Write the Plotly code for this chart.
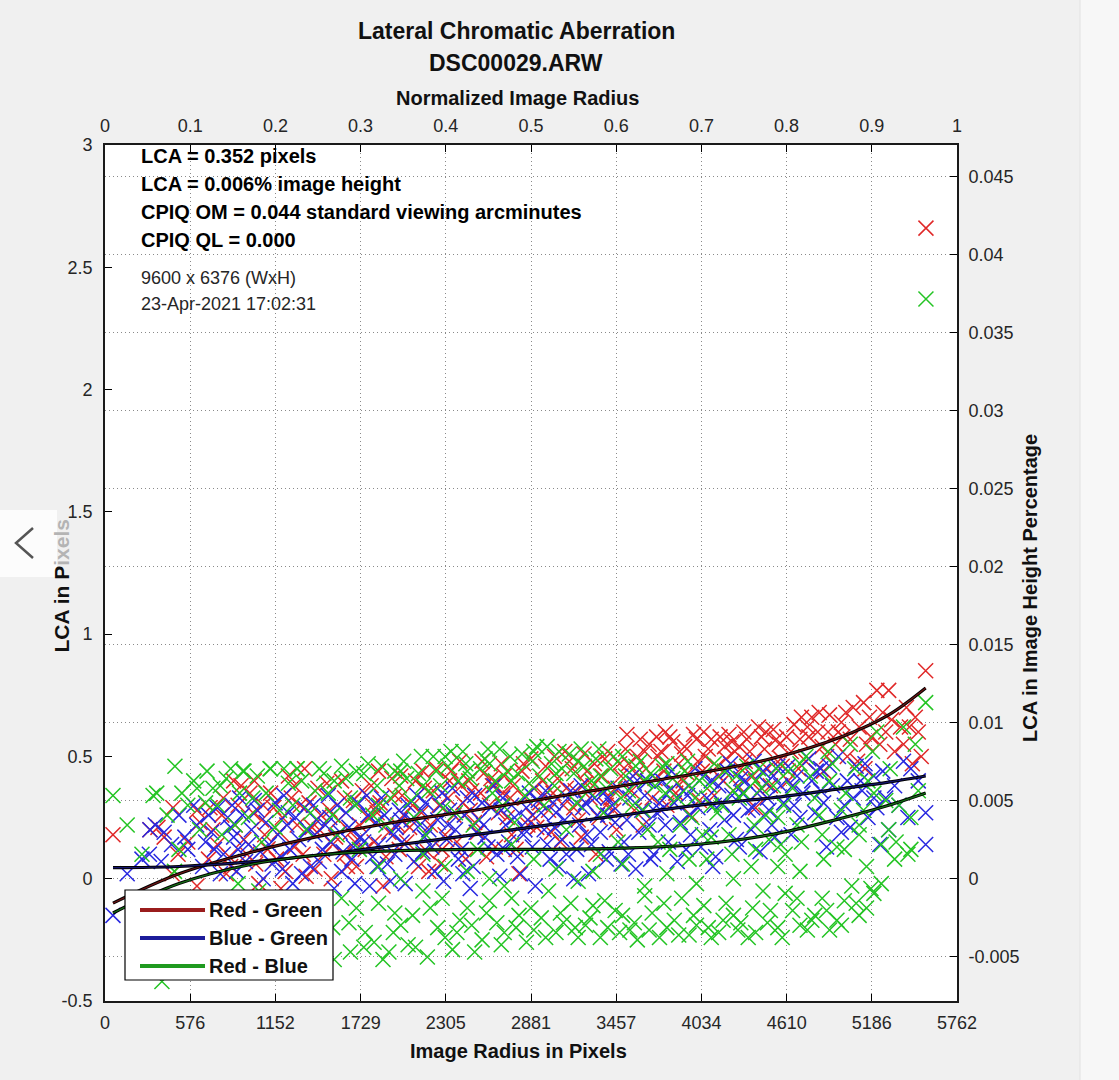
import plotly.graph_objects as go

# LCA points (radius in pixels, LCA in pixels)
red_pts = [
    (54, 0.18), (304, 0.20), (358, 0.21), (460, 0.29), (622, 0.28), (710, 0.29), (642, 0.23), (494, 0.10),
    (622, -0.03), (453, 0.02), (560, 0.15), (400, 0.17),
    (760, 0.14), (800, 0.33), (850, 0.05), (880, 0.22), (920, 0.38), (960, 0.10), (1000, 0.27), (1040, -0.02),
    (1080, 0.18), (1120, 0.35), (1160, 0.08), (1200, 0.25), (1240, 0.42), (1280, 0.13), (1320, 0.30), (1360, 0.01),
    (1400, 0.21), (1440, 0.37), (1480, 0.10), (1520, 0.28), (1560, 0.17), (1600, 0.40), (1640, 0.05), (1680, 0.32),
    (1720, 0.22), (1760, 0.12), (1800, 0.38), (1840, 0.27), (1880, -0.03), (1920, 0.19), (1960, 0.34),
    (730, 0.20), (790, 0.26), (840, 0.09), (900, 0.30), (940, 0.16), (980, 0.35), (1020, 0.06), (1060, 0.24),
    (1100, 0.12), (1140, 0.29), (1180, 0.19), (1220, 0.03), (1260, 0.33), (1300, 0.22), (1340, 0.10), (1380, 0.31),
    (1420, 0.04), (1460, 0.26), (1500, 0.39), (1540, 0.14), (1580, 0.24), (1620, 0.33), (1660, 0.19), (1700, 0.05),
    (1740, 0.36), (1780, 0.25), (1820, 0.15), (1860, 0.31), (1900, 0.09), (1940, 0.41), (1980, 0.22),
    (2000, 0.42), (2040, 0.15), (2080, 0.30), (2120, 0.05), (2160, 0.37), (2200, 0.22), (2240, 0.45), (2280, 0.12),
    (2320, 0.33), (2360, 0.26), (2400, 0.48), (2440, 0.08), (2480, 0.36), (2520, 0.19), (2560, 0.43), (2600, 0.30),
    (2640, 0.13), (2680, 0.47), (2720, 0.25), (2760, 0.38), (2800, 0.02), (2840, 0.33), (2880, 0.49), (2920, 0.21),
    (2960, 0.40), (3000, 0.28), (3040, 0.50), (3080, 0.15), (3120, 0.37), (3160, 0.45), (3200, 0.24), (3240, 0.51),
    (3280, 0.33), (3320, 0.10), (3360, 0.42), (3400, 0.52), (3440, 0.28), (3480, 0.47),
    (2010, 0.34), (2060, 0.21), (2100, 0.40), (2140, 0.27), (2180, 0.11), (2220, 0.36), (2260, 0.30), (2300, 0.18),
    (2340, 0.44), (2380, 0.15), (2420, 0.31), (2460, 0.40), (2500, 0.23), (2540, 0.35), (2580, 0.09), (2620, 0.38),
    (2660, 0.27), (2700, 0.42), (2740, 0.33), (2780, 0.12), (2820, 0.44), (2860, 0.22), (2900, 0.37), (2940, 0.31),
    (2980, 0.46), (3020, 0.19), (3060, 0.41), (3100, 0.30), (3140, 0.48), (3180, 0.36), (3220, 0.17), (3260, 0.44),
    (3300, 0.38), (3340, 0.25), (3380, 0.49), (3420, 0.33), (3460, 0.20), (3490, 0.42),
    (3520, 0.53), (3560, 0.36), (3600, 0.50), (3640, 0.22), (3680, 0.55), (3720, 0.41), (3760, 0.52), (3800, 0.30),
    (3840, 0.56), (3880, 0.47), (3920, 0.54), (3960, 0.26), (4000, 0.57), (4040, 0.44), (4080, 0.53), (4120, 0.34),
    (4160, 0.58), (4200, 0.49), (4240, 0.56), (4280, 0.38), (4320, 0.60), (4360, 0.52), (4400, 0.29), (4440, 0.58),
    (4480, 0.45), (4520, 0.61), (4560, 0.55),
    (3540, 0.47), (3580, 0.28), (3620, 0.57), (3660, 0.45), (3700, 0.33), (3740, 0.50), (3780, 0.44), (3820, 0.58),
    (3860, 0.35), (3900, 0.51), (3940, 0.43), (3980, 0.59), (4020, 0.32), (4060, 0.50), (4100, 0.57), (4140, 0.46),
    (4180, 0.40), (4220, 0.59), (4260, 0.52), (4300, 0.45), (4340, 0.57), (4380, 0.42), (4420, 0.62), (4460, 0.53),
    (4500, 0.38), (4540, 0.57), (4580, 0.46),
    (4620, 0.40), (4660, 0.63), (4700, 0.57), (4740, 0.48), (4780, 0.66), (4820, 0.60), (4860, 0.44), (4900, 0.67),
    (4940, 0.55), (4980, 0.64), (5020, 0.50), (5060, 0.70), (5100, 0.62), (5140, 0.45), (5180, 0.58), (5220, 0.77),
    (5260, 0.68), (5300, 0.77), (5340, 0.52), (5380, 0.62), (5420, 0.70), (5460, 0.47), (5500, 0.60), (5550, 0.85),
    (4640, 0.52), (4690, 0.45), (4760, 0.58), (4830, 0.68), (4880, 0.50), (4960, 0.60), (5040, 0.57), (5090, 0.48),
    (5170, 0.66), (5240, 0.55), (5320, 0.65), (5400, 0.55), (5440, 0.62), (5520, 0.50),
    (820, 0.02), (1010, 0.40), (1190, -0.04), (1350, 0.45), (1530, 0.00), (1690, 0.15), (1850, 0.44), (2020, 0.26),
    (2190, 0.03), (2330, 0.40), (2470, 0.28), (2610, 0.41), (2750, 0.18), (2890, 0.26), (3030, 0.35), (3170, 0.29),
    (3310, 0.47), (3450, 0.37), (3590, 0.43), (3730, 0.58), (3870, 0.39), (4010, 0.48), (4150, 0.42), (4290, 0.54),
    (4430, 0.36), (4570, 0.49), (4710, 0.66), (4850, 0.54), (4990, 0.58), (5130, 0.72),
    (700, 0.08), (870, 0.40), (1070, 0.30), (1280, 0.38), (1450, 0.20), (1620, 0.10), (1810, 0.30), (1990, 0.12),
    (2150, 0.44), (2270, 0.06), (2410, 0.38), (2550, 0.48), (2690, 0.35), (2830, 0.47), (2970, 0.34), (3110, 0.52),
    (3250, 0.39), (3390, 0.30), (3530, 0.59), (3650, 0.52), (3790, 0.60), (3910, 0.40), (4050, 0.60), (4190, 0.54),
    (4330, 0.48), (4470, 0.60), (4610, 0.58), (4750, 0.62), (4890, 0.60), (5010, 0.68), (5150, 0.55), (5280, 0.60),
    (5480, 0.66),
    (5552, 2.66),
]

blue_pts = [
    (54, -0.15), (304, 0.20), (340, 0.22), (400, 0.19), (300, 0.10), (380, 0.07), (500, 0.26), (540, 0.17),
    (560, 0.12), (620, 0.22), (660, 0.05), (700, 0.26), (150, 0.02), (250, 0.08), (450, 0.14), (600, 0.30),
    (680, 0.15),
    (740, 0.12), (780, 0.02), (830, 0.25), (870, 0.17), (910, 0.33), (950, 0.07), (990, 0.20), (1030, 0.28),
    (1070, 0.00), (1110, 0.14), (1150, 0.31), (1190, 0.09), (1230, 0.22), (1270, -0.02), (1310, 0.16), (1350, 0.29),
    (1390, 0.05), (1430, 0.24), (1470, 0.12), (1510, 0.34), (1550, -0.04), (1590, 0.19), (1630, 0.27), (1670, 0.08),
    (1710, 0.31), (1750, 0.15), (1790, -0.03), (1830, 0.23), (1870, 0.33), (1910, 0.06), (1950, 0.18), (1990, 0.28),
    (720, 0.19), (760, 0.29), (800, 0.10), (850, 0.21), (890, 0.03), (930, 0.26), (970, 0.14), (1010, 0.32),
    (1090, 0.23), (1130, 0.06), (1170, 0.18), (1210, 0.34), (1250, 0.12), (1290, 0.25), (1330, 0.02), (1370, 0.20),
    (1410, 0.30), (1450, 0.07), (1490, 0.22), (1530, 0.15), (1570, 0.30), (1610, 0.11), (1650, 0.21), (1690, -0.02),
    (1730, 0.17), (1770, 0.34), (1810, 0.09), (1850, 0.14), (1890, 0.26), (1930, -0.01), (1970, 0.21),
    (2030, -0.02), (2070, 0.24), (2110, 0.34), (2150, 0.11), (2190, 0.20), (2230, 0.03), (2270, 0.30), (2310, 0.16),
    (2350, 0.37), (2390, 0.08), (2430, 0.26), (2470, -0.04), (2510, 0.19), (2550, 0.31), (2590, 0.13), (2630, 0.38),
    (2670, 0.01), (2710, 0.22), (2750, 0.30), (2790, 0.09), (2830, 0.18), (2870, 0.35), (2910, -0.03), (2950, 0.27),
    (2990, 0.14), (3030, 0.31), (3070, 0.05), (3110, 0.24), (3150, 0.36), (3190, 0.12), (3230, 0.29), (3270, 0.02),
    (3310, 0.33), (3350, 0.19), (3390, 0.08), (3430, 0.30), (3470, 0.37),
    (2010, 0.15), (2050, 0.30), (2090, 0.07), (2130, 0.22), (2170, 0.31), (2210, 0.13), (2250, 0.24), (2290, -0.01),
    (2330, 0.28), (2370, 0.20), (2410, 0.12), (2450, 0.33), (2490, 0.05), (2530, 0.24), (2570, 0.17), (2610, 0.29),
    (2650, 0.10), (2690, 0.33), (2730, 0.15), (2770, 0.25), (2810, 0.02), (2850, 0.29), (2890, 0.13), (2930, 0.32),
    (2970, 0.20), (3010, 0.08), (3050, 0.27), (3090, 0.16), (3130, 0.33), (3170, 0.00), (3210, 0.22), (3250, 0.31),
    (3290, 0.14), (3330, 0.26), (3370, 0.35), (3410, 0.11), (3450, 0.23), (3490, 0.06),
    (3510, 0.15), (3550, 0.33), (3590, 0.04), (3630, 0.28), (3670, 0.40), (3710, 0.10), (3750, 0.31), (3790, 0.22),
    (3830, 0.44), (3870, 0.07), (3910, 0.36), (3950, 0.26), (3990, 0.45), (4030, 0.13), (4070, 0.33), (4110, 0.05),
    (4150, 0.38), (4190, 0.24), (4230, 0.47), (4270, 0.16), (4310, 0.35), (4350, 0.28), (4390, 0.48), (4430, 0.11),
    (4470, 0.39), (4510, 0.22), (4550, 0.46), (4590, 0.31),
    (3530, 0.24), (3570, 0.42), (3610, 0.19), (3650, 0.34), (3690, 0.08), (3730, 0.27), (3770, 0.40), (3810, 0.15),
    (3850, 0.31), (3890, 0.23), (3930, 0.12), (3970, 0.37), (4010, 0.29), (4050, 0.42), (4090, 0.20), (4130, 0.09),
    (4170, 0.31), (4210, 0.44), (4250, 0.26), (4290, 0.13), (4330, 0.40), (4370, 0.20), (4410, 0.35), (4450, 0.44),
    (4490, 0.28), (4530, 0.17), (4570, 0.38),
    (4640, 0.18), (4680, 0.42), (4720, 0.35), (4760, 0.49), (4800, 0.27), (4840, 0.45), (4880, 0.13), (4920, 0.38),
    (4960, 0.50), (5000, 0.30), (5040, 0.21), (5080, 0.46), (5120, 0.36), (5160, 0.25), (5200, 0.42), (5240, 0.14),
    (5280, 0.33), (5340, 0.38), (5400, 0.48), (5550, 0.27), (5550, 0.14), (5500, 0.40),
    (4620, 0.46), (4700, 0.25), (4780, 0.40), (4860, 0.31), (4900, 0.46), (4980, 0.19), (5060, 0.33), (5140, 0.47),
    (5220, 0.29), (5300, 0.20), (5370, 0.30), (5450, 0.45),
    (860, 0.30), (1050, 0.11), (1240, 0.27), (1420, 0.18), (1600, 0.03), (1780, 0.26), (1960, 0.10), (2140, 0.28),
    (2320, 0.22), (2500, 0.34), (2680, 0.28), (2860, 0.24), (3040, 0.21), (3220, 0.38), (3400, 0.26), (3580, 0.39),
    (3760, 0.28), (3940, 0.34), (4120, 0.30), (4300, 0.41), (4480, 0.33), (4660, 0.30), (4840, 0.36), (5020, 0.40),
    (5200, 0.33),
    (1520, 0.25), (1680, 0.13), (1840, 0.05), (2000, 0.24), (2160, 0.17), (2280, 0.35), (2420, 0.02), (2560, 0.22),
    (2700, 0.12), (2840, 0.20), (2980, 0.36), (3120, 0.10), (3260, 0.18), (3400, 0.33), (3540, 0.10), (3680, 0.22),
    (3820, 0.36), (3960, 0.18), (4100, 0.40), (4240, 0.34), (4380, 0.29), (4520, 0.42), (4650, 0.38), (4810, 0.44),
    (4950, 0.25), (5110, 0.40), (5260, 0.44), (5430, 0.25), (900, 0.12), (1200, 0.04),
]

green_pts = [
    (54, 0.34), (325, 0.34), (350, 0.35), (473, 0.46), (520, 0.35), (560, 0.30), (622, 0.37), (690, 0.44),
    (780, 0.38), (500, 0.12), (640, 0.20), (470, 0.03), (933, 0.44), (1116, 0.45), (1298, 0.45),
    (150, 0.22), (250, 0.10), (420, 0.26), (600, 0.40), (680, 0.31),
    (760, 0.30), (820, 0.41), (880, 0.22), (940, 0.44), (1000, 0.33), (1060, 0.15), (1120, 0.45), (1180, 0.28),
    (1240, 0.39), (1300, 0.45), (1360, 0.20), (1420, 0.36), (1480, 0.43), (1540, 0.26), (1600, 0.46), (1660, 0.33),
    (1720, 0.12), (1780, 0.47), (1840, 0.38), (1900, 0.22), (1960, 0.44),
    (730, 0.37), (790, 0.18), (850, 0.45), (910, 0.35), (970, 0.25), (1030, 0.42), (1090, 0.35), (1150, 0.21),
    (1210, 0.45), (1270, 0.30), (1330, 0.40), (1390, 0.27), (1450, 0.45), (1510, 0.35), (1570, 0.18), (1630, 0.41),
    (1690, 0.30), (1750, 0.43), (1810, 0.26), (1870, 0.46), (1930, 0.33), (1990, 0.38),
    (2020, 0.48), (2070, 0.32), (2120, 0.43), (2170, 0.18), (2220, 0.50), (2270, 0.38), (2320, 0.46), (2370, 0.27),
    (2420, 0.52), (2470, 0.41), (2520, 0.12), (2570, 0.49), (2620, 0.35), (2670, 0.53), (2720, 0.44), (2770, 0.23),
    (2820, 0.51), (2870, 0.39), (2920, 0.54), (2970, 0.30), (3020, 0.47), (3070, 0.52), (3120, 0.20), (3170, 0.43),
    (3220, 0.53), (3270, 0.36), (3320, 0.49), (3370, 0.27), (3420, 0.45), (3470, 0.15),
    (2040, 0.41), (2090, 0.25), (2140, 0.50), (2190, 0.36), (2240, 0.44), (2290, 0.29), (2340, 0.52), (2390, 0.40),
    (2440, 0.47), (2490, 0.22), (2540, 0.45), (2590, 0.53), (2640, 0.40), (2690, 0.30), (2740, 0.50), (2790, 0.43),
    (2840, 0.34), (2890, 0.48), (2940, 0.42), (2990, 0.54), (3040, 0.38), (3090, 0.45), (3140, 0.51), (3190, 0.31),
    (3240, 0.46), (3290, 0.40), (3340, 0.53), (3390, 0.37), (3440, 0.50), (3490, 0.33),
    (3520, 0.42), (3570, 0.30), (3620, 0.48), (3670, 0.20), (3720, 0.38), (3770, 0.46), (3820, 0.12), (3870, 0.33),
    (3920, 0.44), (3970, 0.25), (4020, 0.40), (4070, 0.08), (4120, 0.47), (4170, 0.30), (4220, 0.18), (4270, 0.42),
    (4320, 0.35), (4370, 0.05), (4420, 0.45), (4470, 0.26), (4520, 0.38), (4570, 0.14),
    (3540, 0.36), (3590, 0.46), (3640, 0.28), (3690, 0.43), (3740, 0.15), (3790, 0.35), (3840, 0.41), (3890, 0.22),
    (3940, 0.48), (3990, 0.33), (4040, 0.18), (4090, 0.38), (4140, 0.27), (4190, 0.44), (4240, 0.10), (4290, 0.33),
    (4340, 0.46), (4390, 0.22), (4440, 0.37), (4490, 0.16), (4540, 0.45), (4590, 0.30),
    (4620, 0.44), (4680, 0.22), (4740, 0.50), (4800, 0.33), (4860, 0.08), (4920, 0.47), (4980, 0.28), (5040, 0.55),
    (5100, 0.18), (5160, 0.40), (5220, 0.60), (5280, 0.32), (5340, 0.08), (5400, 0.62), (5450, 0.25), (5550, 0.72),
    (5500, 0.36),
    (4650, 0.37), (4710, 0.15), (4770, 0.42), (4830, 0.26), (4890, 0.52), (4950, 0.13), (5010, 0.35), (5070, 0.45),
    (5130, 0.28), (5190, 0.52), (5250, 0.14), (5310, 0.45), (5370, 0.30), (5430, 0.10), (5480, 0.55),
    (1550, 0.40), (1700, 0.44), (1850, 0.30), (2000, 0.44), (2150, 0.38), (2300, 0.50), (2450, 0.44), (2600, 0.47),
    (2750, 0.40), (2900, 0.52), (3050, 0.43), (3200, 0.48), (3350, 0.42), (3500, 0.50), (3650, 0.40), (3800, 0.47),
    (3950, 0.38), (4100, 0.30), (4250, 0.36), (4400, 0.40), (4550, 0.25), (4700, 0.47), (4900, 0.40), (5200, 0.35),
    # lower band
    (385, -0.42), (560, -0.28), (700, -0.20), (850, -0.33), (980, -0.12), (1100, -0.25), (1230, -0.38), (1350, -0.18),
    (1480, -0.30), (1600, -0.08), (1660, -0.30), (1760, -0.22), (1880, -0.33), (1960, -0.14), (2050, -0.27),
    (2150, -0.05), (2250, -0.20), (2350, -0.29), (2450, -0.12), (2550, -0.25), (2650, -0.18), (2750, -0.08),
    (2850, -0.26), (2950, -0.16), (3050, -0.22), (3150, -0.10), (3250, -0.19), (3350, -0.24), (3450, -0.13),
    (3550, -0.21), (3650, -0.07), (3750, -0.24), (3850, -0.17), (3950, -0.23), (4050, -0.11), (4150, -0.22),
    (4250, -0.15), (4350, -0.24), (4450, -0.05), (4550, -0.20), (4650, -0.13), (4750, -0.21), (4850, -0.08),
    (4950, -0.17), (5050, -0.03), (5150, -0.12), (5250, -0.02),
    (600, -0.35), (780, -0.12), (920, -0.25), (1040, -0.05), (1170, -0.30), (1290, -0.15), (1410, -0.28),
    (1540, -0.20), (1700, -0.12), (1820, -0.26), (1920, -0.30), (2000, -0.19), (2100, -0.28), (2200, -0.12),
    (2300, -0.24), (2400, -0.17), (2500, -0.30), (2600, -0.09), (2700, -0.22), (2800, -0.15), (2900, -0.21),
    (3000, -0.05), (3100, -0.18), (3200, -0.24), (3300, -0.11), (3400, -0.20), (3500, -0.15), (3600, -0.25),
    (3700, -0.14), (3800, -0.20), (3900, -0.08), (4000, -0.19), (4100, -0.24), (4200, -0.10), (4300, -0.18),
    (4400, -0.22), (4500, -0.13), (4600, -0.06), (4700, -0.19), (4800, -0.15), (4900, -0.21), (5000, -0.09),
    (5100, -0.15), (5200, -0.06),
    (1450, -0.10), (1550, -0.33), (1650, -0.18), (1750, -0.28), (1850, -0.10), (1950, -0.22), (2080, -0.15),
    (2180, -0.32), (2280, -0.08), (2380, -0.22), (2480, -0.19), (2580, -0.14), (2680, -0.27), (2780, -0.20),
    (2880, -0.12), (2980, -0.24), (3080, -0.14), (3180, -0.20), (3280, -0.16), (3380, -0.09), (3480, -0.22),
    (3580, -0.18), (3680, -0.21), (3780, -0.10), (3880, -0.23), (3980, -0.15), (4080, -0.20), (4180, -0.17),
    (4280, -0.21), (4380, -0.12), (4480, -0.18), (4580, -0.24), (4680, -0.08), (4780, -0.17), (4880, -0.13),
    (4980, -0.19), (5080, -0.10), (5180, -0.04), (1250, -0.22), (1050, -0.35), (900, -0.02),
    # middle band
    (2300, 0.05), (2600, 0.00), (2900, 0.08), (3200, -0.01), (3500, 0.06), (3800, 0.02), (4100, 0.17),
    (4400, 0.12), (4700, 0.03), (5000, 0.12), (5300, 0.20),
    (1850, 0.05), (2150, 0.10), (2450, 0.03), (2750, 0.14), (3050, 0.04), (3350, 0.10), (3650, -0.03),
    (3950, 0.08), (4250, 0.00), (4550, 0.05), (4850, 0.18), (5150, 0.05), (5450, 0.12),
    (2000, 0.00), (2700, -0.03), (3300, 0.03), (4000, -0.02), (4600, 0.10), (5100, 0.22), (5350, 0.15),
    (5552, 2.37),
]

# fitted curves
fit_r = [54, 500, 1000, 1500, 2000, 2500, 3000, 3500, 4000, 4500, 5000, 5300, 5550]
fit_rg = [-0.10, 0.02, 0.11, 0.18, 0.235, 0.28, 0.33, 0.38, 0.43, 0.49, 0.585, 0.67, 0.78]
fit_bg = [0.045, 0.05, 0.07, 0.10, 0.14, 0.18, 0.22, 0.26, 0.30, 0.33, 0.37, 0.395, 0.42]
fit_rb = [-0.14, -0.02, 0.06, 0.10, 0.115, 0.12, 0.12, 0.125, 0.14, 0.18, 0.25, 0.30, 0.35]

x_ticks = [0, 576, 1152, 1729, 2305, 2881, 3457, 4034, 4610, 5186, 5762]
norm_ticks = [0, 0.1, 0.2, 0.3, 0.4, 0.5, 0.6, 0.7, 0.8, 0.9, 1]
lca_ticks = [-0.5, 0, 0.5, 1, 1.5, 2, 2.5, 3]
pct_ticks = [-0.005, 0, 0.005, 0.01, 0.015, 0.02, 0.025, 0.03, 0.035, 0.04, 0.045]

img_h = 6376
x_max = 5762
y_rng = [-0.5, 3]

FONT = "Liberation Sans, Arial, sans-serif"
TXT = "#262626"


def px(x):
    return (x - 105) / 852


def py(y):
    return (1001 - y) / 856


fig = go.Figure()

for pts, c in [(red_pts, "#e02828"), (blue_pts, "#2828e0"), (green_pts, "#24c424")]:
    r, v = zip(*pts)
    fig.add_trace(go.Scatter(x=r, y=v, mode="markers", showlegend=False, hoverinfo="skip",
                             marker=dict(symbol="x-thin", size=15, line=dict(color=c, width=1.5))))

for v, c in [(fit_rg, "#6e1515"), (fit_bg, "#15156e"), (fit_rb, "#156e15")]:
    fig.add_trace(go.Scatter(x=fit_r, y=v, mode="lines", showlegend=False, hoverinfo="skip",
                             line=dict(color="black", width=3.2, shape="spline")))
    fig.add_trace(go.Scatter(x=fit_r, y=v, mode="lines", showlegend=False, hoverinfo="skip",
                             line=dict(color=c, width=1.2, shape="spline")))

# empty traces so the top / right axes get drawn
fig.add_trace(go.Scatter(x=[], y=[], xaxis="x2", yaxis="y", showlegend=False))
fig.add_trace(go.Scatter(x=[], y=[], xaxis="x", yaxis="y2", showlegend=False))

axfont = dict(family=FONT, size=18, color=TXT)
common = dict(ticks="inside", ticklen=7, tickcolor="black", showline=True, linecolor="#1a1a1a",
              linewidth=1.6, zeroline=False, tickfont=axfont)
grid = dict(showgrid=True, gridcolor="#8a8a8a", griddash="1px,3px", gridwidth=1)
fig.update_layout(
    width=1119, height=1080,
    paper_bgcolor="#f0f0f0", plot_bgcolor="white",
    margin=dict(l=105, r=162, t=145, b=79),
    font=dict(family=FONT, color=TXT),
    showlegend=False,
    xaxis=dict(range=[0, x_max], tickvals=x_ticks, ticktext=[str(t) for t in x_ticks],
               ticklabelstandoff=5, **common, **grid),
    xaxis2=dict(range=[0, 1], tickvals=norm_ticks, overlaying="x", side="top", anchor="y",
                showgrid=False, ticklabelstandoff=4, **common),
    yaxis=dict(range=y_rng, tickvals=lca_ticks, ticktext=["-0.5", "0", "0.5", "1", "1.5", "2", "2.5", "3"],
               showgrid=False, ticklabelstandoff=7, **common),
    yaxis2=dict(range=[y_rng[0] * 100 / img_h, y_rng[1] * 100 / img_h], tickvals=pct_ticks,
                ticktext=["-0.005", "0", "0.005", "0.01", "0.015", "0.02", "0.025", "0.03", "0.035",
                          "0.04", "0.045"],
                overlaying="y", side="right", anchor="x", ticklabelstandoff=6, **common, **grid),
)

titles = [
    ("Lateral Chromatic Aberration", 516, 31, 23),
    ("DSC00029.ARW", 516, 63, 23),
    ("Normalized Image Radius", 517, 98, 20),
    ("Image Radius in Pixels", 518, 1051, 20),
]
for t, x, y, s in titles:
    fig.add_annotation(text=t, x=px(x), y=py(y), xref="paper", yref="paper", showarrow=False,
                       xanchor="center", yanchor="middle",
                       font=dict(family=FONT, size=s, color="#111111", weight="bold"))
fig.add_annotation(text="LCA in P<span style='color:#b4b4b4'>ixels</span>", x=px(47), y=py(586),
                   xref="paper", yref="paper", showarrow=False, textangle=-90,
                   font=dict(family=FONT, size=21, color="#111111", weight="bold"))
fig.add_annotation(text="LCA in Image Height Percentage", x=px(1043), y=py(588), xref="paper",
                   yref="paper", showarrow=False, textangle=-90,
                   font=dict(family=FONT, size=20, color="#111111", weight="bold"))

info = [
    ("LCA = 0.352 pixels", 156, True),
    ("LCA = 0.006% image height", 184, True),
    ("CPIQ OM = 0.044 standard viewing arcminutes", 212, True),
    ("CPIQ QL = 0.000", 240, True),
    ("9600 x 6376 (WxH)", 278, False),
    ("23-Apr-2021 17:02:31", 304, False),
]
for t, y, b in info:
    fig.add_annotation(text=t, x=px(139), y=py(y), xref="paper", yref="paper", showarrow=False,
                       xanchor="left", yanchor="middle",
                       font=dict(family=FONT, size=20 if b else 18, color="black" if b else TXT,
                                 weight="bold" if b else "normal"))

# legend box drawn by hand (MATLAB style long line samples)
legend = [("Red - Green", "#9a1c1c", 910), ("Blue - Green", "#1c1c9a", 938), ("Red - Blue", "#1f9a1f", 966)]
fig.add_shape(type="rect", xref="paper", yref="paper", x0=px(125), x1=px(333), y0=py(980), y1=py(890),
              fillcolor="white", line=dict(color="black", width=1.2), layer="above")
for name, c, y in legend:
    fig.add_shape(type="line", xref="paper", yref="paper", x0=px(140), x1=px(205), y0=py(y), y1=py(y),
                  line=dict(color=c, width=4), layer="above")
    fig.add_annotation(text=name, x=px(207), y=py(y), xref="paper", yref="paper", showarrow=False,
                       xanchor="left", yanchor="middle",
                       font=dict(family=FONT, size=20, color="#111111", weight="bold"))

# viewer chrome: right strip and left collapse tab
fig.add_shape(type="rect", xref="paper", yref="paper", x0=px(1080), x1=px(1125), y0=py(1085), y1=py(-5),
              fillcolor="#f7f7f7", line=dict(color="#e2e2e2", width=1), layer="below")
fig.add_shape(type="rect", xref="paper", yref="paper", x0=px(-2), x1=px(57), y0=py(577), y1=py(510),
              fillcolor="rgba(255,255,255,0.8)", line=dict(width=0), layer="above")
fig.add_shape(type="path", xref="paper", yref="paper",
              path=f"M {px(33)} {py(528)} L {px(16)} {py(543)} L {px(33)} {py(558)}",
              line=dict(color="#555555", width=2.5), layer="above")

fig.write_html("out.html", config={"displayModeBar": False},
               post_script="document.body.style.margin='0';document.body.style.overflow='hidden';")
